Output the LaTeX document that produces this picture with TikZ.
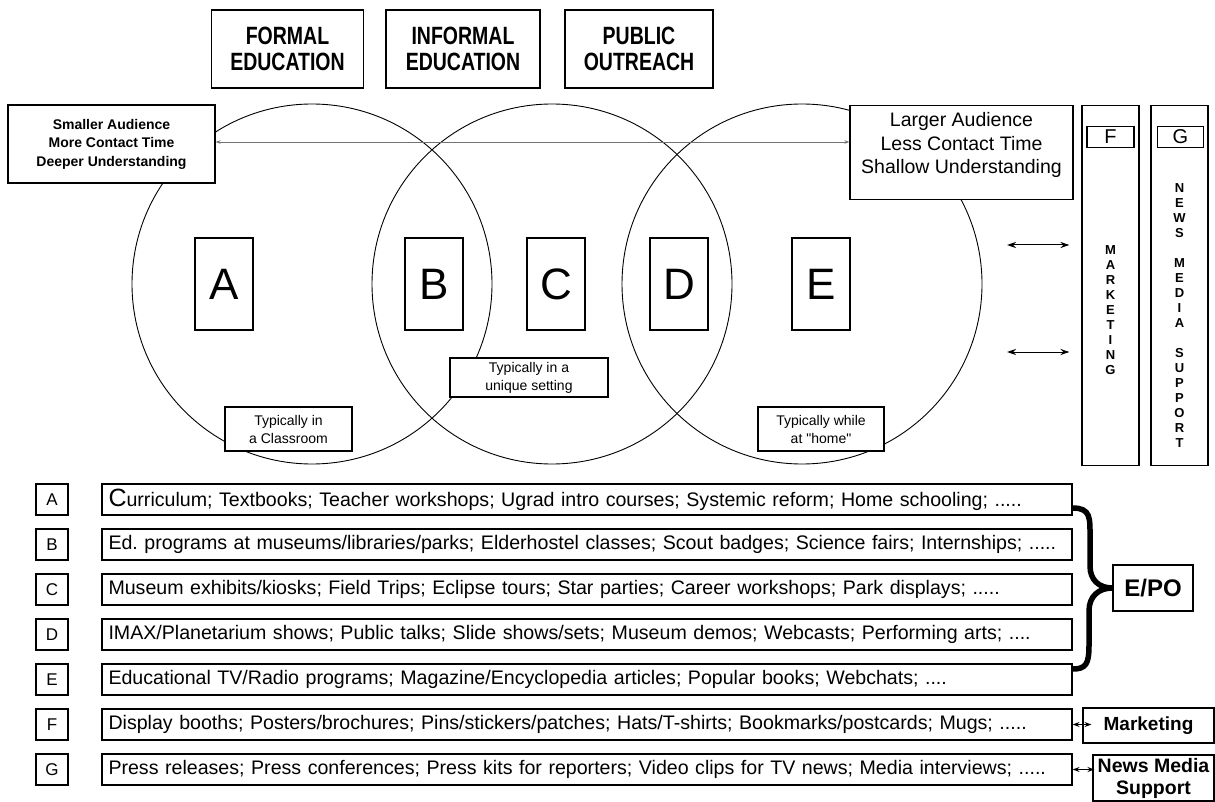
\documentclass[tikz,border=0pt]{standalone}
\usepackage{fontspec}
\setmainfont{Liberation Sans}
\newfontfamily\narrowfam{Liberation Sans}[FakeStretch=0.78]
\usetikzlibrary{arrows.meta}
\frenchspacing
\newcommand{\straightq}{\XeTeXglyph\numexpr\XeTeXcharglyph"22\relax}
\tikzset{
  box/.style={draw, line width=1.1pt, fill=white, inner sep=0pt, align=center},
  circ/.style={draw, line width=0.9pt, circle, minimum size=360pt, inner sep=0pt},
  headbox/.style={box, minimum width=152pt, minimum height=78pt, font=\narrowfam\bfseries\fontsize{25}{26}\selectfont},
  letterbox/.style={box, minimum width=58pt, minimum height=92pt, font=\fontsize{44}{44}\selectfont},
  notebox/.style={box, font=\fontsize{14}{18}\selectfont},
  keybox/.style={box, minimum width=32pt, minimum height=31pt, font=\fontsize{17}{17}\selectfont},
  rowbox/.style={box, minimum width=970pt, minimum height=31pt, text width=957pt, inner xsep=6.5pt, align=left, font=\fontsize{19.6}{22}\selectfont},
  colbox/.style={box, minimum width=57pt, minimum height=360pt, anchor=north},
  vtext/.style={align=center, font=\bfseries\fontsize{13}{15}\selectfont, inner sep=0pt},
  thinarrow/.style={draw=black!55, line width=0.9pt, {Stealth[length=5pt,width=3.5pt]}-{Stealth[length=5pt,width=3.5pt]}},
  dblarrow/.style={draw, line width=1pt, {Stealth[length=9pt,width=6pt]}-{Stealth[length=9pt,width=6pt]}},
  smallarrow/.style={draw, line width=1pt, {Stealth[length=7pt,width=5pt]}-{Stealth[length=7pt,width=5pt]}},
}
\begin{document}
\begin{tikzpicture}[x=1pt,y=-1pt]
\useasboundingbox (0,0) rectangle (1215,802);
% top headers
\node[headbox] (formal) at (287.5,49) {FORMAL\\EDUCATION};
\node[headbox, minimum width=154pt] (informal) at (463,49) {INFORMAL\\EDUCATION};
\node[headbox, minimum width=148pt] (public) at (639,49) {PUBLIC\\OUTREACH};
% circles
\node[circ] (c1) at (312,284) {};
\node[circ] (c2) at (552,284) {};
\node[circ] (c3) at (802,284) {};
% audience boxes
\node[box, minimum width=207pt, minimum height=78pt, font=\bfseries\fontsize{14}{18.5}\selectfont] (small) at (111.5,144) {Smaller Audience\\More Contact Time\\Deeper Understanding};
\node[box, minimum width=223pt, minimum height=94pt, anchor=north] (large) at (961.5,105) {};
\node[align=center, inner sep=0pt, font=\fontsize{19.5}{23.5}\selectfont] (largetxt) at (961.5,145) {Larger Audience\\Less Contact Time\\Shallow Understanding};
\draw[thinarrow] ([yshift=2pt]small.east) -- ([yshift=2pt]small.east -| large.west);
% letter boxes in circles
\node[letterbox] (A) at (224,284) {A};
\node[letterbox] (B) at (434,284) {B};
\node[letterbox] (C) at (556,284) {C};
\node[letterbox] (D) at (679,284) {D};
\node[letterbox] (E) at (821,284) {E};
% setting notes
\node[notebox, minimum width=127pt, minimum height=44pt] (classroom) at (288.5,429) {Typically in\\a Classroom};
\node[notebox, minimum width=158pt, minimum height=39pt] (unique) at (529,377.5) {Typically in a\\unique setting};
\node[notebox, minimum width=126pt, minimum height=44pt] (home) at (821,429) {Typically while\\at \straightq home\straightq};
% F and G columns
\node[colbox] (fcol) at (1110.5,105) {};
\node[colbox] (gcol) at (1179.5,105) {};
\node[box, minimum width=47pt, minimum height=21pt, font=\fontsize{20}{20}\selectfont] (flab) at (1110.5,137) {F};
\node[box, minimum width=46pt, minimum height=21pt, font=\fontsize{20}{20}\selectfont] (glab) at (1180.5,137) {G};
\node[vtext] (mktv) at (1110.5,310) {M\\A\\R\\K\\E\\T\\I\\N\\G};
\node[vtext] (newsv) at (1179.5,315.5) {N\\E\\W\\S\\[15pt]M\\E\\D\\I\\A\\[15pt]S\\U\\P\\P\\O\\R\\T};
\coordinate (m1) at (1007,245);
\coordinate (m2) at (1007,352);
\draw[dblarrow, shorten >=12pt] (m1) -- (m1 -| fcol.west);
\draw[dblarrow, shorten >=12pt] (m2) -- (m2 -| fcol.west);
% key list
\node[keybox] (kA) at (52,499.5) {A};
\node[keybox] (kB) at (52,544.5) {B};
\node[keybox] (kC) at (52,589.5) {C};
\node[keybox] (kD) at (52,634.5) {D};
\node[keybox] (kE) at (52,679.5) {E};
\node[keybox] (kF) at (52,724.5) {F};
\node[keybox] (kG) at (52,769.5) {G};
\node[rowbox] (rA) at (587,499.5) {{\fontsize{25}{20}\selectfont C}urriculum; Textbooks; Teacher workshops; Ugrad intro courses; Systemic reform; Home schooling; .....};
\node[rowbox] (rB) at (587,544.5) {Ed. programs at museums/libraries/parks; Elderhostel classes; Scout badges; Science fairs; Internships; .....};
\node[rowbox] (rC) at (587,589.5) {Museum exhibits/kiosks; Field Trips; Eclipse tours; Star parties; Career workshops; Park displays; .....};
\node[rowbox] (rD) at (587,634.5) {IMAX/Planetarium shows; Public talks; Slide shows/sets; Museum demos; Webcasts; Performing arts; ....};
\node[rowbox] (rE) at (587,679.5) {Educational TV/Radio programs; Magazine/Encyclopedia articles; Popular books; Webchats; ....};
\node[rowbox] (rF) at (587,724.5) {Display booths; Posters/brochures; Pins/stickers/patches; Hats/T-shirts; Bookmarks/postcards; Mugs; .....};
\node[rowbox] (rG) at (587,769.5) {Press releases; Press conferences; Press kits for reporters; Video clips for TV news; Media interviews; .....};
% E/PO brace
\node[box, minimum width=80pt, minimum height=46pt, font=\bfseries\fontsize{24}{24}\selectfont] (epo) at (1153,588) {E/PO};
\coordinate (bt) at ([yshift=-8.5pt]rA.east);
\coordinate (bb) at ([yshift=10.5pt]rE.east);
\draw[line width=5.5pt] (bt) .. controls (1091,508) and (1090,518) .. (1090,538) -- (1090,566) .. controls (1090,580) and (1099,588) .. (epo.west)
  .. controls (1099,588) and (1089,596) .. (1089,611) -- (1089,645) .. controls (1089,664) and (1086,669) .. (bb);
% Marketing / News media
\node[box, minimum width=131pt, minimum height=35pt, font=\bfseries\fontsize{19}{19}\selectfont] (mkt) at (1148.5,725.5) {Marketing};
\node[box, minimum width=121pt, minimum height=46pt, font=\bfseries\fontsize{19.5}{22}\selectfont] (news) at (1153.5,778) {News Media\\Support};
\draw[smallarrow] (rF.east) -- ([xshift=9pt]rF.east -| mkt.west);
\draw[smallarrow] (rG.east) -- ([xshift=2pt]rG.east -| news.west);
\end{tikzpicture}
\end{document}
